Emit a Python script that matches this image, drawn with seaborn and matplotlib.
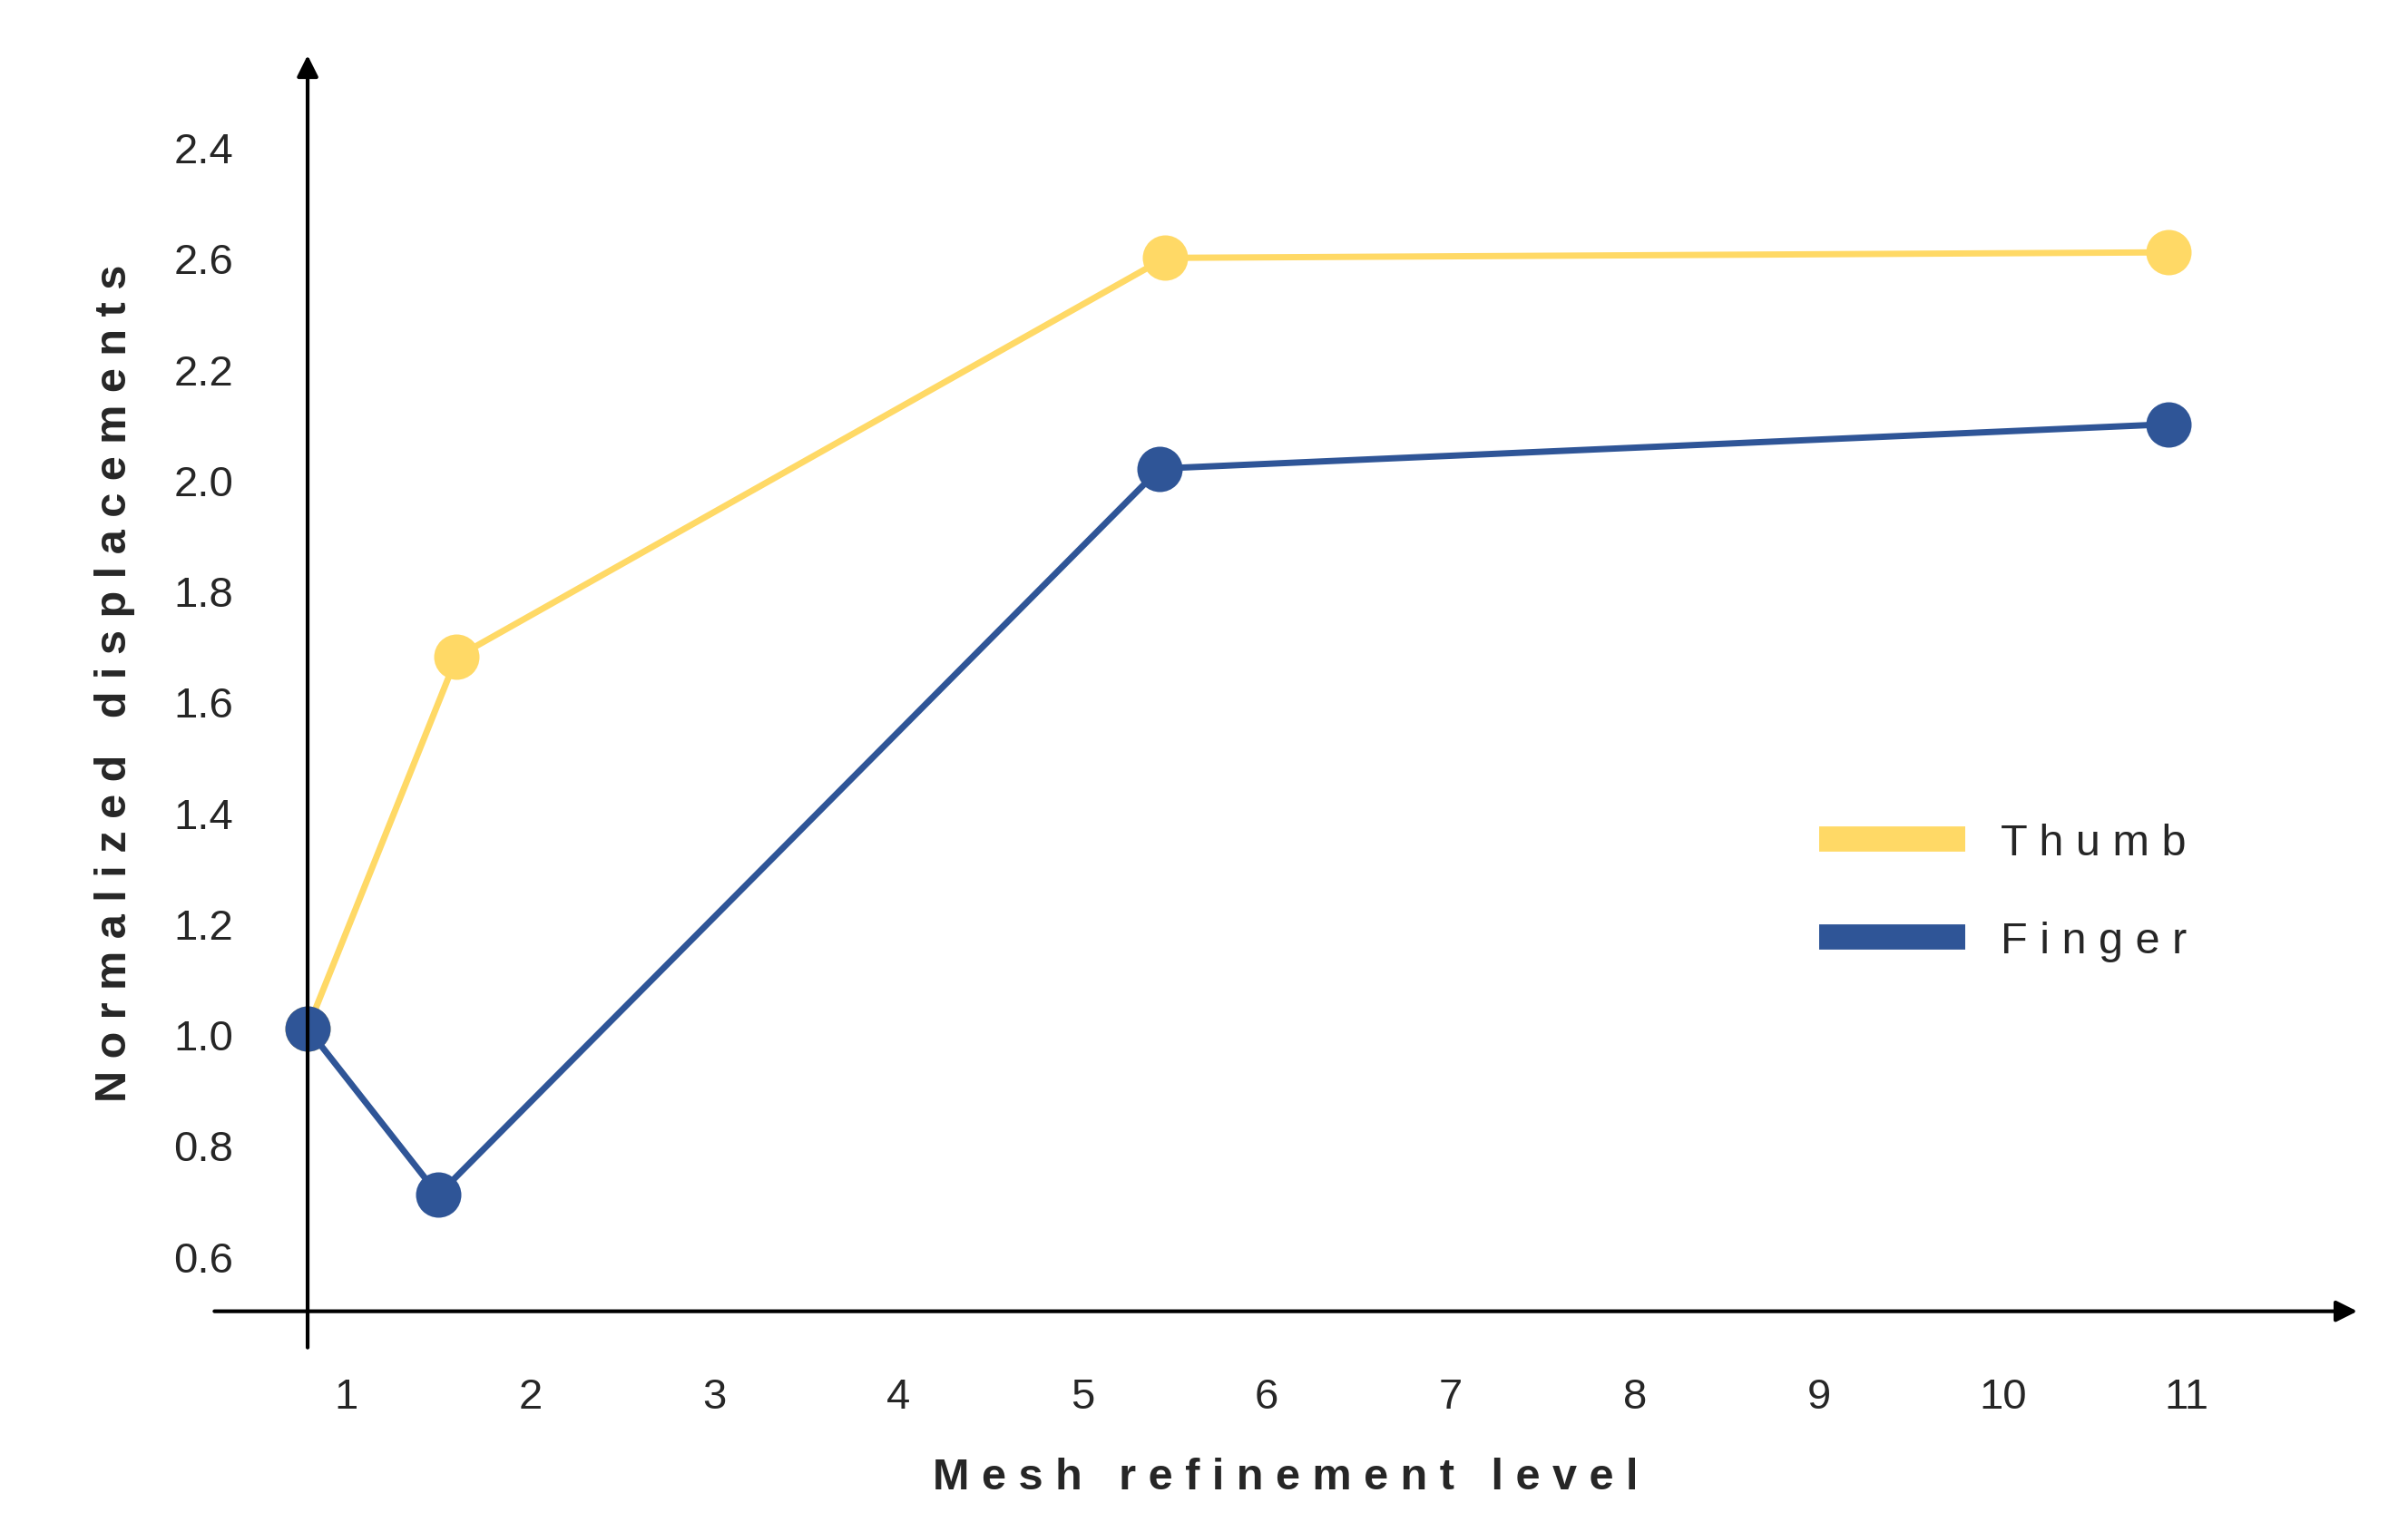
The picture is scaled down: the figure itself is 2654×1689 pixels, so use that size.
import matplotlib.pyplot as plt
import numpy as np
import pandas as pd
import seaborn as sns
from matplotlib.lines import Line2D

sns.set_style('white')
plt.rcParams['font.family'] = ['Liberation Sans', 'DejaVu Sans']

# data
thumb_x = [0.79, 1.6, 5.45, 10.9]
thumb_y = [1.01, 1.68, 2.40, 2.41]
finger_x = [0.79, 1.5, 5.42, 10.9]
finger_y = [1.01, 0.71, 2.02, 2.10]
x_ticks = [1, 2, 3, 4, 5, 6, 7, 8, 9, 10, 11]
y_ticks = [0.6, 0.8, 1.0, 1.2, 1.4, 1.6, 1.8, 2.0, 2.2, 2.4, 2.6]
y_labels = ['0.6', '0.8', '1.0', '1.2', '1.4', '1.6', '1.8', '2.0', '2.2', '2.6', '2.4']

yellow = '#FFD966'
blue = '#2F5597'

df = pd.concat([
    pd.DataFrame({'x': thumb_x, 'y': thumb_y, 'series': 'Thumb'}),
    pd.DataFrame({'x': finger_x, 'y': finger_y, 'series': 'Finger'}),
])

fig = plt.figure(figsize=(26.54, 16.9), dpi=100)
ax = fig.add_axes([0.088, 0.144, 0.892, 0.821])

sns.lineplot(data=df, x='x', y='y', hue='series', palette={'Thumb': yellow, 'Finger': blue},
             marker='o', markersize=36, markeredgewidth=0, linewidth=5, sort=False,
             legend=False, ax=ax)

ax.set_xlim(0.27, 11.94)
ax.set_ylim(0.5, 2.77)

for s in ax.spines.values():
    s.set_visible(False)

# arrows for axes
ax.annotate('', xy=(11.94, 0.5), xytext=(0.27, 0.5),
            arrowprops=dict(arrowstyle='-|>', color='black', lw=3, mutation_scale=35))
ax.annotate('', xy=(0.79, 2.77), xytext=(0.79, 0.43),
            arrowprops=dict(arrowstyle='-|>', color='black', lw=3, mutation_scale=35))

ax.set_xticks(x_ticks)
ax.set_xticklabels([str(t) for t in x_ticks], fontsize=34)
ax.set_yticks(y_ticks)
ax.set_yticklabels(y_labels, fontsize=34)
ax.tick_params(axis='x', length=0, pad=52)
ax.tick_params(axis='y', length=0, pad=-17)
ax.grid(False)

ax.set_xlabel(' '.join('Mesh refinement level'), fontsize=35, fontweight='bold', labelpad=32)
ax.set_ylabel(' '.join('Normalized displacements'), fontsize=35, fontweight='bold', labelpad=30)

handles = [Line2D([0], [0], color=yellow, lw=20, solid_capstyle='butt'),
           Line2D([0], [0], color=blue, lw=20, solid_capstyle='butt')]
ax.legend(handles, [' '.join('Thumb'), ' '.join('Finger')], frameon=False, fontsize=35,
          handlelength=3.3, labelspacing=1.3, bbox_to_anchor=(0.73, 0.42), loc='upper left')

fig.savefig('out.png', dpi=100)
